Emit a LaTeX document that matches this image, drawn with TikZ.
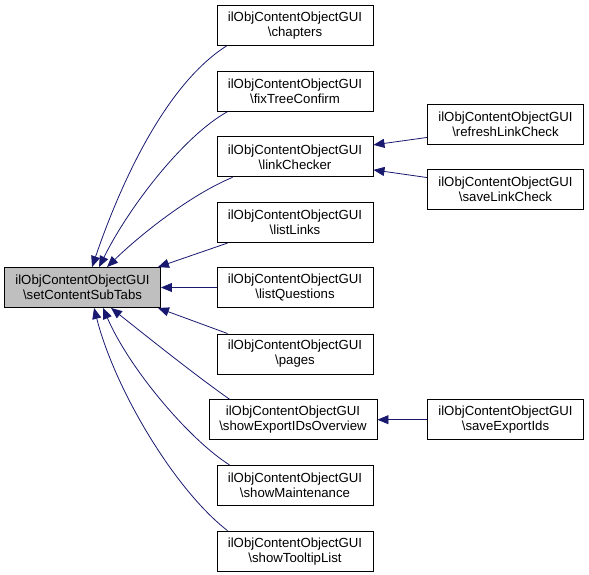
\documentclass[tikz,border=0pt]{standalone}
\usepackage{fontspec}
\setmainfont{Liberation Sans}
\usetikzlibrary{arrows.meta,calc}
\definecolor{edgeblue}{HTML}{191970}
\definecolor{mainfill}{HTML}{BFBFBF}
\tikzset{
  fn/.style={draw=black, line width=0.9pt, fill=white, minimum width=156pt, minimum height=40pt,
    inner sep=0pt, align=center, font=\fontsize{13.2}{15}\selectfont},
  mainfn/.style={fn, fill=mainfill},
  wide/.style={minimum width=168pt},
  edge/.style={draw=edgeblue, line width=0.8pt, -{Triangle[length=11pt,width=9pt]}, fill=none}
}
\begin{document}
\begin{tikzpicture}[x=1pt,y=-1pt]
\useasboundingbox (0,0) rectangle (589,575);
\node[mainfn] (main) at (82.5,287.5) {ilObjContentObjectGUI\\\textbackslash setContentSubTabs};
\node[fn] (c1) at (295,25.5) {ilObjContentObjectGUI\\\textbackslash chapters};
\node[fn] (c2) at (295,91.2) {ilObjContentObjectGUI\\\textbackslash fixTreeConfirm};
\node[fn] (c3) at (295,156.9) {ilObjContentObjectGUI\\\textbackslash linkChecker};
\node[fn] (c4) at (295,222.6) {ilObjContentObjectGUI\\\textbackslash listLinks};
\node[fn] (c5) at (295,287.5) {ilObjContentObjectGUI\\\textbackslash listQuestions};
\node[fn] (c6) at (295,354) {ilObjContentObjectGUI\\\textbackslash pages};
\node[fn,wide] (c7) at (293,419.7) {ilObjContentObjectGUI\\\textbackslash showExportIDsOverview};
\node[fn] (c8) at (295,485.4) {ilObjContentObjectGUI\\\textbackslash showMaintenance};
\node[fn] (c9) at (295,551.1) {ilObjContentObjectGUI\\\textbackslash showTooltipList};
\node[fn] (r1) at (505.5,124) {ilObjContentObjectGUI\\\textbackslash refreshLinkCheck};
\node[fn] (r2) at (505.5,189.5) {ilObjContentObjectGUI\\\textbackslash saveLinkCheck};
\node[fn] (r3) at (505.5,419.7) {ilObjContentObjectGUI\\\textbackslash saveExportIds};

\draw[edge] ($(c1.south west)+(10,0)$) .. controls (165,85) and (120,185) .. ($(main.north west)+(88,0)$);
\draw[edge] ($(c2.south west)+(11,0)$) .. controls (185,135) and (130,205) .. ($(main.north west)+(95,0)$);
\draw[edge] ($(c3.south west)+(16,0)$) .. controls (190,195) and (140,235) .. ($(main.north west)+(103,0)$);
\draw[edge] ($(c4.south west)+(11,0)$) -- ($(main.north east)+(-3,0)$);
\draw[edge] (c5.west) -- (main.east);
\draw[edge] ($(c6.north west)+(11,0)$) -- ($(main.south east)+(-3,0)$);
\draw[edge] ($(c7.north west)+(21,0)$) .. controls (195,375) and (145,335) .. ($(main.south west)+(107,0)$);
\draw[edge] ($(c8.north west)+(13,0)$) .. controls (190,440) and (130,370) .. ($(main.south west)+(99,0)$);
\draw[edge] ($(c9.north west)+(11,0)$) .. controls (175,490) and (115,390) .. ($(main.south west)+(90,0)$);

\draw[edge] ($(r1.south west)+(0,-7)$) -- ($(c3.east)+(0,-12)$);
\draw[edge] ($(r2.north west)+(0,8.5)$) -- ($(c3.east)+(0,13)$);
\draw[edge] (r3.west) -- (c7.east);
\end{tikzpicture}
\end{document}
